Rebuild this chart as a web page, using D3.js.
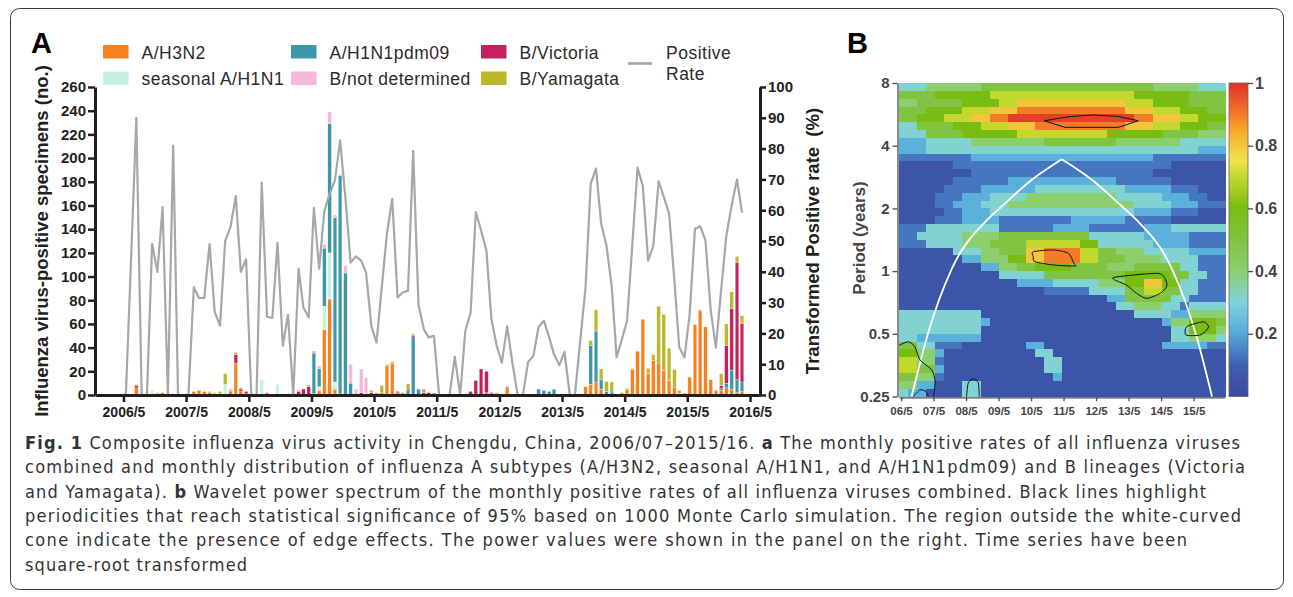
<!DOCTYPE html>
<html>
<head>
<meta charset="utf-8">
<script src="https://cdn.jsdelivr.net/npm/d3@7"></script>
<style>
  body { margin: 0; background: #fff; }
  svg { display: block; font-family: "Liberation Sans", Arial, sans-serif; }
</style>
</head>
<body>
<svg id="fig" width="1293" height="597"></svg>
<script>
// ---------- Panel A data: one value per month, 2005/12 .. 2016/3 ----------
const months = d3.timeMonth.range(new Date(2005, 11, 1), new Date(2016, 3, 1));

// transformed positive rate (%)
const positiveRate = [
  0,
  0, 0, 0, 0, 0, 45, 90, 0, 0, 49, 40, 61,
  0, 81, 0, 0, 0, 35, 31.5, 31.5, 49, 27, 22.5, 50,
  54.5, 64.6, 40, 44, 0, 0, 69, 25.4, 25, 49.4, 16, 26,
  0, 41, 28.4, 25.2, 60.8, 41, 59.7, 65.4, 69.7, 82.7, 64, 43,
  45, 43.6, 39.8, 22.5, 17, 35, 52.3, 63.7, 31.7, 33.3, 33.9, 79.3,
  29.3, 21.4, 18.7, 19.2, 0, 0, 0, 12.4, 0, 20.8, 26.8, 59.4,
  53.4, 46.9, 24.7, 16, 10.5, 22.3, 10.7, 0, 0, 10.7, 12.7, 22.1,
  24.1, 18.7, 13.2, 9.7, 14, 0, 0, 17.6, 35, 68.6, 73.5, 55.6,
  48.5, 35, 12.2, 18.1, 24.1, 49.1, 73.8, 67.8, 43.6, 48.5, 69.4, 64.3,
  58.9, 37.1, 15.6, 12.2, 26.3, 54, 54.8, 50.2, 27.4, 15.4, 34.4, 51.8,
  61.6, 70, 59.2
];

// positive specimens (no.) per subtype / lineage
const h3n2 = [
  0,
  0, 0, 0, 0, 0, 0, 6, 0, 0, 0, 1, 2,
  0, 0, 0, 0, 0, 3, 4, 3, 2, 1, 1, 0,
  3, 27, 3, 1, 0, 0, 0, 2, 0, 0, 1, 0,
  0, 0, 0, 0, 0, 4, 55, 81, 5, 1, 0, 0,
  0, 0, 0, 0, 0, 2, 25, 26.5, 2, 0, 0, 0,
  0, 0, 0, 0, 0, 0, 0, 0, 0, 0, 0, 0,
  0, 2, 1, 1, 0, 6, 0, 0, 0, 0, 0, 0,
  0, 0, 0, 0, 0, 0, 0, 0, 7, 9, 11, 5,
  0, 0, 0, 0, 5, 21.5, 37, 64, 18, 29, 27, 21,
  12, 6.5, 1.5, 1.5, 14.5, 59.5, 71, 57.5, 13, 4, 4, 6,
  5, 2, 3
];
const seasonalH1N1 = [
  0,
  0, 0, 0, 0, 0, 0, 0, 0, 0, 4, 0, 0,
  0, 0, 0, 0, 0, 0, 0, 0, 0, 0, 0, 9,
  0, 0, 0, 0, 0, 0, 13, 0, 1, 9, 0, 0,
  0, 0, 0, 0, 1, 3, 20, 39, 6, 0, 0, 0,
  0, 0, 0, 0, 0, 0, 0, 0, 0, 0, 0, 0,
  0, 0, 0, 0, 0, 0, 0, 0, 0, 0, 0, 0,
  0, 0, 0, 0, 0, 0, 0, 0, 0, 0, 0, 0,
  0, 0, 0, 0, 0, 0, 0, 0, 0, 0, 0, 0,
  0, 0, 0, 0, 0, 0, 0, 0, 0, 0, 0, 0,
  0, 0, 0, 0, 0, 0, 0, 0, 0, 0, 0, 0,
  0, 0, 0
];
const h1n1pdm09 = [
  0,
  0, 0, 0, 0, 0, 0, 0, 0, 0, 0, 0, 0,
  0, 0, 0, 0, 0, 0, 0, 0, 0, 0, 0, 0,
  0, 0, 0, 0, 0, 0, 0, 0, 0, 0, 0, 0,
  0, 0, 0, 0, 34, 15.5, 49, 109, 139, 184, 103, 10,
  0, 0, 0, 0, 0, 0, 0, 0, 0, 0, 3.5, 49,
  5, 0, 0, 0, 0, 0, 0, 0, 0, 0, 0, 0,
  0, 0, 0, 0, 0, 1, 0, 0, 0, 0, 0, 5,
  4, 3, 5, 0, 0, 0, 0, 1, 0, 33, 43, 8,
  3, 2.5, 0, 0, 0, 0, 0, 0, 0, 0, 0, 0,
  0, 0, 0, 0, 0, 0, 0, 0, 0, 0, 1.5, 4,
  16, 11, 8
];
const victoria = [
  0,
  0, 0, 0, 0, 0, 0, 2, 0, 0, 0, 0, 0,
  0, 0, 0, 0, 0, 0, 0, 0, 0, 0, 0, 0,
  1, 7, 2, 2, 0, 0, 0, 0, 0, 0, 0, 1,
  0, 3, 5, 7, 1, 0, 0, 0, 0, 0, 0, 0,
  0, 2, 1, 2, 1.5, 0, 0, 0, 1, 0, 1.5, 1,
  0, 2, 2, 1.5, 0, 0, 0, 0, 0, 1, 3, 12,
  22, 18, 1, 0, 0, 0, 0, 0, 0, 0, 0, 0,
  0, 0, 0, 0, 0, 0, 0, 0, 0, 0, 0, 0,
  0, 0, 0, 0, 0, 0, 0, 0, 0, 0, 0, 0,
  0, 1, 0, 0, 0, 0, 0, 0, 0, 0, 2.5, 32,
  52, 99, 49.5
];
const yamagata = [
  0,
  0, 0, 0, 0, 0, 0, 1, 0, 0, 0, 1, 0,
  0, 1, 0, 0, 0, 0, 0, 0, 1, 1, 2, 9,
  0.5, 2, 1, 0, 0, 0, 0, 0, 0, 0, 0, 0,
  0, 1, 0, 1.5, 1, 0, 0, 0, 0, 0, 0, 1,
  0, 0, 0, 2, 0, 6, 1, 1.5, 0, 2, 4.5, 1.5,
  0, 3, 0, 0, 0, 0, 0, 0, 0, 0, 0, 1,
  0, 0, 0, 1, 0, 0, 0, 0, 0, 0, 0, 0,
  0, 0, 0, 0, 0, 0, 0, 0, 0, 4, 18, 9,
  8.5, 8.5, 0, 2, 0.7, 1, 0, 0, 4.5, 5, 48, 47,
  27.5, 14, 2.5, 0, 1, 0, 1, 0, 0, 0, 10, 18,
  14, 5, 6.5
];
const bNotDetermined = [
  0,
  0, 0, 0, 0, 0, 0, 0, 0, 0, 0, 0, 0,
  0, 0, 0, 0, 0, 0, 0, 0, 0, 0, 0, 0,
  1, 0, 0, 0, 0, 0, 0, 0, 0, 0, 0, 0,
  0, 0, 0, 0, 0, 2, 3, 10, 2, 1.5, 6, 15,
  5, 20, 13.5, 0, 0, 0, 0, 0, 0, 0, 0, 0,
  0, 0, 0, 0, 0, 0, 0, 0, 0, 0, 0, 0,
  0, 0, 0, 0, 0, 0, 0, 0, 0, 0, 0, 0,
  0, 0, 0, 0, 0, 0, 0, 0, 0, 0, 0, 0,
  0, 0, 0, 0, 0, 0, 0, 0, 0, 0, 0, 0,
  0, 0, 0, 0, 0, 0, 0, 0, 0, 0, 0, 0,
  0, 0, 0
];

const tickLabelsA = ["2006/5", "2007/5", "2008/5", "2009/5", "2010/5", "2011/5",
                     "2012/5", "2013/5", "2014/5", "2015/5", "2016/5"];

// ---------- Panel B data: wavelet power ----------
// rows top (period 8) to bottom (period 0.25); "level:count" runs over 36 time columns
const powerLevels = [0.05, 0.13, 0.22, 0.31, 0.4, 0.5, 0.6, 0.7, 0.8, 0.9, 0.98];
const powerRows = [
  "3:3 4:6 5:19 4:5 3:3",
  "5:4 6:6 7:16 6:6 5:4",
  "4:2 5:5 6:4 7:2 8:12 7:3 6:4 5:4",
  "5:3 6:4 7:3 8:3 9:12 8:3 7:3 6:3 5:2",
  "5:2 6:3 7:3 8:2 9:2 a:14 9:2 8:3 7:2 6:3",
  "3:2 5:4 6:3 7:3 8:3 9:10 8:3 7:3 6:3 5:2",
  "3:3 5:4 6:6 7:10 6:6 5:4 4:3",
  "2:3 3:5 4:8 5:8 4:7 3:5",
  "2:3 3:30 2:3",
  "1:8 2:20 1:8",
  "0:6 1:24 0:6",
  "0:8 1:20 0:8",
  "0:6 1:6 2:12 1:6 0:6",
  "0:5 1:4 2:6 3:10 2:5 1:3 0:3",
  "0:4 1:3 2:3 3:4 4:10 3:5 2:3 1:2 0:2",
  "0:4 1:2 2:3 3:3 4:14 3:4 2:3 1:3",
  "0:5 1:2 2:3 3:16 2:4 1:3 0:3",
  "0:4 1:3 2:4 1:8 2:6 1:5 0:6",
  "1:3 3:8 1:6 2:4 1:6 2:3 3:6",
  "1:2 3:5 4:4 5:10 3:6 2:5 1:4",
  "1:3 3:4 4:3 5:4 7:6 6:2 3:6 2:4 1:4",
  "0:6 3:3 4:2 5:3 8:2 9:4 7:2 5:2 4:3 3:5 2:4",
  "0:7 2:2 4:3 6:2 8:2 9:4 7:2 5:3 4:4 3:4 1:3",
  "0:9 2:2 4:2 5:2 6:4 5:4 4:3 5:5 3:2 1:3",
  "0:11 3:5 5:9 6:5 5:2 3:2 1:2",
  "0:13 2:4 3:5 4:3 6:2 8:2 6:2 3:2 1:3",
  "0:16 1:5 3:4 5:2 7:2 5:2 3:2 1:3",
  "0:23 2:2 5:5 3:2 1:4",
  "0:24 3:2 4:3 3:2 1:1 3:4",
  "3:9 0:17 3:4 2:2 4:4",
  "3:9 2:1 0:19 2:1 4:2 6:3 5:1",
  "3:9 0:21 3:2 6:3 4:1",
  "3:2 2:7 0:21 3:2 4:3 3:1",
  "5:2 3:2 1:3 0:7 2:2 0:13 2:5 1:2",
  "6:2 4:2 2:1 0:10 3:2 0:19",
  "7:2 4:2 1:1 0:11 3:2 0:18",
  "7:2 5:2 2:1 0:11 3:2 0:18",
  "5:2 4:2 1:1 0:12 2:1 0:18",
  "4:2 2:2 0:3 3:2 0:27",
  "3:1 2:2 0:4 3:2 0:27"
];

// cone of influence (decimal year, period in years)
const coiYear   = [2006.66, 2007.16, 2007.9, 2008.98, 2009.47, 2010.3, 2011.28, 2012.26, 2013.09, 2013.58, 2014.66, 2015.4, 2015.9];
const coiPeriod = [0.25, 0.5, 1.03, 1.76, 2.07, 2.7, 3.44, 2.7, 2.07, 1.76, 1.03, 0.5, 0.25];

// 95% significance outlines [year, period]
const sig5yr  = [[2010.74,5.27],[2011.53,5.52],[2012.24,5.62],[2013.01,5.53],[2013.63,5.27],[2013.02,4.9],[2011.38,4.9]];
const sig1yr  = [[2010.40,1.239],[2011.02,1.263],[2011.48,1.218],[2011.65,1.09],[2011.69,1.058],[2011.02,1.07],[2010.45,1.11],[2010.40,1.172]];
const sig085  = [[2012.86,0.93],[2014.20,0.976],[2014.45,0.923],[2014.51,0.848],[2014.31,0.782],[2013.89,0.74],[2013.58,0.782],[2013.27,0.857]];
const sig055  = [[2015.12,0.541],[2015.63,0.571],[2015.79,0.545],[2015.74,0.522],[2015.53,0.493],[2015.10,0.493]];
const sigEdge = [[2006.27,0.44],[2006.56,0.458],[2006.76,0.433],[2006.92,0.374],[2007.28,0.335],[2007.38,0.295],[2007.33,0.25]];
const sigLow1 = [[2006.71,0.25],[2006.92,0.269],[2007.10,0.264],[2007.17,0.25]];
const sigLow2 = [[2008.35,0.25],[2008.40,0.29],[2008.56,0.304],[2008.71,0.291],[2008.74,0.25]];

const tickLabelsB = ["06/5","07/5","08/5","09/5","10/5","11/5","12/5","13/5","14/5","15/5"];
const periodTicks = [8, 4, 2, 1, 0.5, 0.25];
const powerTicks = [0.2, 0.4, 0.6, 0.8, 1];

// colour ramp of the power scale
const powerStops  = [0, 0.1, 0.2, 0.3, 0.4, 0.5, 0.6, 0.7, 0.75, 0.85, 0.92, 1];
const powerColors = ["#3a4a9e","#3f60b2","#53a8dc","#80d3dd","#8ccf6e","#80c442","#79bd14",
                     "#c2d82c","#eee44c","#f6a82b","#f06b25","#e03128"];

// caption
const captionLines = [
  [["Fig. 1", true], [" Composite influenza virus activity in Chengdu, China, 2006/07–2015/16. ", false], ["a", true], [" The monthly positive rates of all influenza viruses", false]],
  [["combined and monthly distribution of influenza A subtypes (A/H3N2, seasonal A/H1N1, and A/H1N1pdm09) and B lineages (Victoria", false]],
  [["and Yamagata). ", false], ["b", true], [" Wavelet power spectrum of the monthly positive rates of all influenza viruses combined. Black lines highlight", false]],
  [["periodicities that reach statistical significance of 95% based on 1000 Monte Carlo simulation. The region outside the white-curved", false]],
  [["cone indicate the presence of edge effects. The power values were shown in the panel on the right. Time series have been", false]],
  [["square-root transformed", false]]
];
const captionWidths = [1215, 1220, 1181, 1216, 1162, 222];

// ================= drawing =================
const svg = d3.select("#fig");
const ink = "#231f20";

// outer frame
svg.append("rect")
  .attr("x", 10.5).attr("y", 8.5).attr("width", 1273).attr("height", 581)
  .attr("rx", 9).attr("fill", "none").attr("stroke", "#3a3a3a").attr("stroke-width", 1);

// ---------- Panel A ----------
const plotA = {left: 95, right: 760, top: 87, bottom: 395};
const xA = d3.scaleTime()
  .domain([new Date(2005, 10, 16), new Date(2016, 5, 28)])
  .range([plotA.left, plotA.right]);
const yCount = d3.scaleLinear().domain([0, 260]).range([plotA.bottom, plotA.top]);
const yRate = d3.scaleLinear().domain([0, 100]).range([plotA.bottom, plotA.top]);
const midMonth = d => d3.timeDay.offset(d, 14);

const table = months.map((m, i) => ({
  date: m, rate: positiveRate[i],
  h3n2: h3n2[i], sH1N1: seasonalH1N1[i], pdm09: h1n1pdm09[i],
  vic: victoria[i], yam: yamagata[i], bnd: bNotDetermined[i]
}));
const stackKeys = ["h3n2", "sH1N1", "pdm09", "vic", "yam", "bnd"];
const colorOf = {h3n2: "#f68121", sH1N1: "#c5f1e1", pdm09: "#3c97aa",
                 vic: "#c4225f", yam: "#bdb82b", bnd: "#f6b9d8"};
const stacked = d3.stack().keys(stackKeys)(table);

const barW = 3.6;
svg.append("g").selectAll("g").data(stacked).join("g")
    .attr("fill", d => colorOf[d.key])
  .selectAll("rect").data(d => d.filter(s => s[1] > s[0])).join("rect")
    .attr("x", s => xA(midMonth(s.data.date)) - barW / 2)
    .attr("y", s => yCount(s[1]))
    .attr("width", barW)
    .attr("height", s => yCount(s[0]) - yCount(s[1]))
    .attr("stroke", "#fff").attr("stroke-width", 0.3);

// positive rate line
svg.append("path").datum(table)
  .attr("fill", "none").attr("stroke", "#a7a7ab").attr("stroke-width", 2.2)
  .attr("stroke-linejoin", "round")
  .attr("d", d3.line().x(d => xA(midMonth(d.date))).y(d => yRate(d.rate)));

function styleAxisA(g, size) {
  g.select(".domain").attr("stroke", ink).attr("stroke-width", 3);
  g.selectAll(".tick line").attr("stroke", ink).attr("stroke-width", 2.5);
  g.selectAll(".tick text").attr("fill", ink).attr("font-size", size).attr("font-weight", "bold");
}

svg.append("g").attr("transform", `translate(${plotA.left},0)`)
  .call(d3.axisLeft(yCount).tickValues(d3.range(0, 261, 20)).tickSize(7).tickSizeOuter(0).tickPadding(2))
  .call(g => styleAxisA(g, 15));

svg.append("g").attr("transform", `translate(${plotA.right},0)`)
  .call(d3.axisRight(yRate).tickValues(d3.range(0, 101, 10)).tickSize(6).tickSizeOuter(0).tickPadding(2))
  .call(g => styleAxisA(g, 15));

const xTicksA = tickLabelsA.map(s => { const p = s.split("/"); return new Date(+p[0], +p[1] - 1, 1); });
svg.append("g").attr("transform", `translate(0,${plotA.bottom})`)
  .call(d3.axisBottom(xA).tickValues(xTicksA).tickFormat((d, i) => tickLabelsA[i])
        .tickSize(7).tickSizeOuter(0).tickPadding(5))
  .call(g => styleAxisA(g, 14));

// axis titles
svg.append("text")
  .attr("transform", "translate(48,241) rotate(-90)")
  .attr("text-anchor", "middle").attr("font-size", 18.5).attr("font-weight", "bold").attr("fill", ink)
  .text("Influenza virus-positive specimens (no.)");
svg.append("text")
  .attr("transform", "translate(819,241) rotate(-90)")
  .attr("text-anchor", "middle").attr("font-size", 18.5).attr("font-weight", "bold").attr("fill", ink)
  .attr("xml:space", "preserve")
  .text("Transformed Positive rate  (%)");

svg.append("text").attr("x", 31).attr("y", 53)
  .attr("font-size", 29).attr("font-weight", "bold").attr("fill", "#000").text("A");

// legend
const legendItems = [
  {key: "h3n2", label: "A/H3N2", col: 0, row: 0},
  {key: "sH1N1", label: "seasonal A/H1N1", col: 0, row: 1},
  {key: "pdm09", label: "A/H1N1pdm09", col: 1, row: 0},
  {key: "bnd", label: "B/not determined", col: 1, row: 1},
  {key: "vic", label: "B/Victoria", col: 2, row: 0},
  {key: "yam", label: "B/Yamagata", col: 2, row: 1}
];
const legColX = [103, 291, 481], legRowY = [45, 71.5];
const leg = svg.append("g").selectAll("g").data(legendItems).join("g")
  .attr("transform", d => `translate(${legColX[d.col]},${legRowY[d.row]})`);
leg.append("rect").attr("width", 25.5).attr("height", 13.5).attr("fill", d => colorOf[d.key]);
leg.append("text").attr("x", 38.5).attr("y", 13.5)
  .attr("font-size", 17.5).attr("letter-spacing", 0.5).attr("fill", "#2b2b2b").text(d => d.label);

svg.append("line").attr("x1", 628).attr("x2", 652).attr("y1", 63.5).attr("y2", 63.5)
  .attr("stroke", "#a7a7ab").attr("stroke-width", 2.6);
svg.append("text").attr("x", 666).attr("y", 58.5).attr("font-size", 17.5).attr("letter-spacing", 0.5)
  .attr("fill", "#2b2b2b").text("Positive");
svg.append("text").attr("x", 666).attr("y", 80).attr("font-size", 17.5).attr("letter-spacing", 0.5)
  .attr("fill", "#2b2b2b").text("Rate");

// ---------- Panel B ----------
const plotB = {left: 899, right: 1225, top: 83, bottom: 396.5};
const xB = d3.scaleLinear().domain([2006.27, 2016.3]).range([plotB.left, plotB.right]);
const yB = d3.scaleLog().base(2).domain([0.25, 8]).range([plotB.bottom, plotB.top]);
const powerColor = d3.scaleLinear().domain(powerStops).range(powerColors).clamp(true);

const nCols = 36, nRows = powerRows.length;
const cells = [];
powerRows.forEach((row, r) => {
  let c = 0;
  row.split(" ").forEach(tok => {
    const [lv, n] = tok.split(":");
    for (let k = 0; k < +n; k++) cells.push({r: r, c: c++, v: powerLevels[parseInt(lv, 11)]});
  });
});
const colT = d3.scaleLinear().domain([0, nCols]).range(xB.domain());
const rowLog = d3.scaleLinear().domain([0, nRows]).range([3, -2]);

svg.append("g").attr("shape-rendering", "crispEdges")
  .selectAll("rect").data(cells).join("rect")
  .attr("x", d => xB(colT(d.c)))
  .attr("y", d => yB(Math.pow(2, rowLog(d.r))))
  .attr("width", d => xB(colT(d.c + 1)) - xB(colT(d.c)) + 0.6)
  .attr("height", d => yB(Math.pow(2, rowLog(d.r + 1))) - yB(Math.pow(2, rowLog(d.r))) + 0.6)
  .attr("fill", d => powerColor(d.v));

// cone of influence, drawn as two halves meeting at the apex
const coiPts = coiYear.map((t, i) => [t, coiPeriod[i]]);
const apex = coiPeriod.indexOf(d3.max(coiPeriod));
const coiLine = d3.line().x(d => xB(d[0])).y(d => yB(d[1])).curve(d3.curveMonotoneX);
[coiPts.slice(0, apex + 1), coiPts.slice(apex)].forEach(part => {
  svg.append("path").attr("d", coiLine(part))
    .attr("fill", "none").attr("stroke", "#fff").attr("stroke-width", 1.8);
});

// significance outlines
const sigLine = d3.line().x(d => xB(d[0])).y(d => yB(d[1]));
svg.append("path").attr("d", sigLine.curve(d3.curveLinearClosed)(sig5yr))
  .attr("fill", "none").attr("stroke", "#111").attr("stroke-width", 1);
[sig1yr, sig085, sig055].forEach(pts => {
  svg.append("path").attr("d", sigLine.curve(d3.curveCardinalClosed.tension(0.3))(pts))
    .attr("fill", "none").attr("stroke", "#111").attr("stroke-width", 1);
});
[sigEdge, sigLow1, sigLow2].forEach(pts => {
  svg.append("path").attr("d", sigLine.curve(d3.curveCardinal.tension(0.3))(pts))
    .attr("fill", "none").attr("stroke", "#111").attr("stroke-width", 1);
});

function styleAxisB(g, size) {
  g.select(".domain").attr("stroke", "#4d4d4d").attr("stroke-width", 1.3);
  g.selectAll(".tick line").attr("stroke", "#4d4d4d").attr("stroke-width", 1.3);
  g.selectAll(".tick text").attr("fill", "#444").attr("font-size", size).attr("font-weight", "bold");
}

svg.append("g").attr("transform", `translate(${plotB.left - 1.5},0)`)
  .call(d3.axisLeft(yB).tickValues(periodTicks).tickFormat(d => String(d))
        .tickSize(5).tickSizeOuter(0).tickPadding(3))
  .call(g => styleAxisB(g, 15));

const xTicksB = tickLabelsB.map(s => 2000 + +s.split("/")[0] + (+s.split("/")[1] - 1) / 12);
svg.append("g").attr("transform", `translate(0,${plotB.bottom + 0.8})`)
  .call(d3.axisBottom(xB).tickValues(xTicksB).tickFormat((d, i) => tickLabelsB[i])
        .tickSize(4).tickSizeOuter(0).tickPadding(6))
  .call(g => styleAxisB(g, 11.5));

svg.append("text")
  .attr("transform", "translate(865,238) rotate(-90)")
  .attr("text-anchor", "middle").attr("font-size", 17).attr("font-weight", "bold").attr("fill", "#444")
  .text("Period (years)");

svg.append("text").attr("x", 847).attr("y", 53)
  .attr("font-size", 29).attr("font-weight", "bold").attr("fill", "#000").text("B");

// colour bar
const cbar = {x: 1229, w: 19};
const powerAxis = d3.scaleLinear().domain([0, 1]).range([plotB.bottom, plotB.top]);
const grad = svg.append("defs").append("linearGradient")
  .attr("id", "powerGrad").attr("x1", 0).attr("x2", 0).attr("y1", 1).attr("y2", 0);
grad.selectAll("stop").data(powerStops).join("stop")
  .attr("offset", d => d).attr("stop-color", (d, i) => powerColors[i]);
svg.append("rect")
  .attr("x", cbar.x).attr("y", plotB.top).attr("width", cbar.w)
  .attr("height", plotB.bottom - plotB.top)
  .attr("fill", "url(#powerGrad)").attr("stroke", "#666").attr("stroke-width", 0.8);
svg.append("g").attr("transform", `translate(${cbar.x + cbar.w},0)`)
  .call(d3.axisRight(powerAxis).tickValues(powerTicks).tickFormat(d => String(d))
        .tickSize(5).tickSizeOuter(0).tickPadding(2))
  .call(g => { styleAxisB(g, 16); g.select(".domain").remove(); });

// ---------- caption ----------
const cap = svg.append("g")
  .attr("font-family", "'Liberation Sans Narrow', 'DejaVu Sans Condensed', 'Liberation Sans', sans-serif")
  .attr("font-size", 18).attr("fill", "#333");
captionLines.forEach((parts, i) => {
  const t = cap.append("text").attr("x", 25).attr("y", 449 + i * 24.3)
    .attr("xml:space", "preserve")
    .attr("textLength", captionWidths[i]).attr("lengthAdjust", "spacing");
  parts.forEach(p => {
    t.append("tspan").attr("font-weight", p[1] ? "bold" : null).text(p[0]);
  });
});
</script>
</body>
</html>
